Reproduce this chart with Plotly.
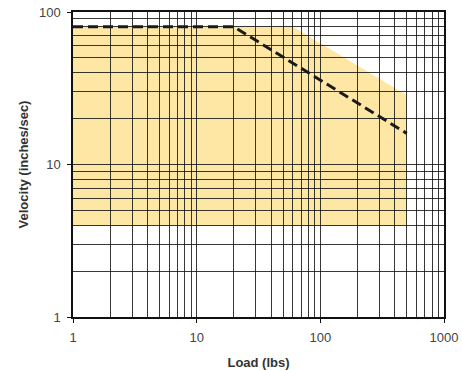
import plotly.graph_objects as go

# Data
load_line = [1, 20, 500]
velocity_line = [80, 80, 16]

region_load = [1, 60, 500, 500, 1]
region_velocity = [80, 80, 28.5, 4, 4]

x_tick_vals = [1, 10, 100, 1000]
x_tick_text = ["1", "10", "100", "1000"]
y_tick_vals = [1, 10, 100]
y_tick_text = ["1", "10", "100"]

x_minor = [m * d for d in (1, 10, 100) for m in range(2, 10)]
y_minor = [m * d for d in (1, 10) for m in range(2, 10)]

path = "M " + " L ".join(f"{x},{y}" for x, y in zip(region_load, region_velocity)) + " Z"

fig = go.Figure()
fig.add_shape(type="path", path=path, xref="x", yref="y", layer="below",
              fillcolor="#FEE6A5", line=dict(width=0))
fig.add_trace(go.Scatter(x=load_line, y=velocity_line, mode="lines",
                         line=dict(color="#1a1a1a", width=3, dash="10px,5px"),
                         showlegend=False, hoverinfo="skip", cliponaxis=False))

grid = "rgba(20,20,20,0.85)"
font_family = "Liberation Sans, Arial, sans-serif"
fig.update_layout(
    width=462, height=370,
    margin=dict(l=73, r=18, t=12, b=53, autoexpand=False),
    paper_bgcolor="white", plot_bgcolor="white",
    font=dict(family=font_family, size=13, color="#444"),
    showlegend=False,
)
fig.update_xaxes(
    type="log", range=[0, 3], automargin=False, ticklabeloverflow="allow",
    tickvals=x_tick_vals, ticktext=x_tick_text, ticklabelstandoff=4,
    showgrid=True, gridcolor=grid, gridwidth=1,
    minor=dict(tickvals=x_minor, showgrid=True, gridcolor=grid, gridwidth=1, ticks=""),
    showline=True, linecolor="#111", linewidth=1.5, mirror=True,
    ticks="outside", ticklen=4, tickcolor="#111",
    title=dict(text="<b>Load (lbs)</b>", font=dict(size=13, color="#333"), standoff=14),
    zeroline=False,
)
fig.update_yaxes(
    type="log", range=[0, 2], automargin=False, ticklabeloverflow="allow",
    tickvals=y_tick_vals, ticktext=y_tick_text, ticklabelstandoff=4,
    showgrid=True, gridcolor=grid, gridwidth=1,
    minor=dict(tickvals=y_minor, showgrid=True, gridcolor=grid, gridwidth=1, ticks=""),
    showline=True, linecolor="#111", linewidth=1.5, mirror=True,
    ticks="outside", ticklen=4, tickcolor="#111",
    title=dict(text="<b>Velocity (inches/sec)</b>", font=dict(size=13, color="#333"), standoff=7),
    zeroline=False,
)

post = ("document.body.style.margin='0';"
        "document.body.style.overflow='hidden';"
        "document.documentElement.style.overflow='hidden';")
fig.write_html("out.html", post_script=post, config={"displayModeBar": False})
